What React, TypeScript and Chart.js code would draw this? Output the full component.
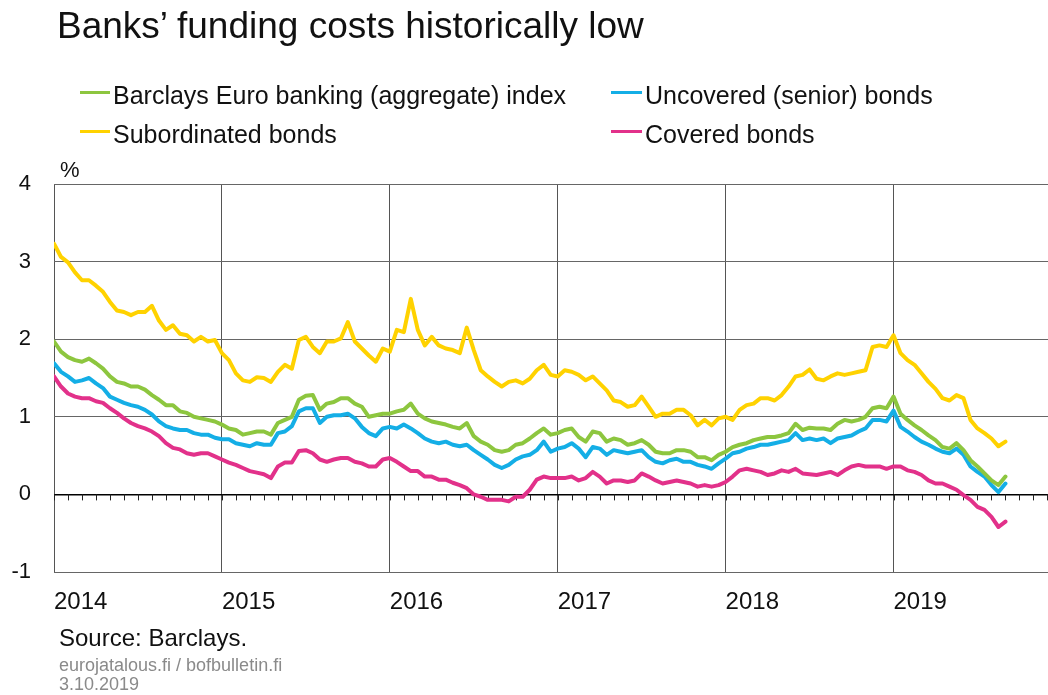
import React, { useEffect, useRef } from "react";
import { Chart, registerables } from "chart.js";

Chart.register(...registerables);

// Half-monthly observations starting January 2014
const startYear = 2014;
const stepsPerYear = 24;
const xMax = 2019.92;
const yearTicks = [2014, 2015, 2016, 2017, 2018, 2019];
const yMin = -1;
const yMax = 4;

const titleText = "Banks’ funding costs historically low";
const seriesNames = [
  "Barclays Euro banking (aggregate) index",
  "Uncovered (senior) bonds",
  "Subordinated bonds",
  "Covered bonds",
];

const aggregateIndex = [
  1.97, 1.84, 1.77, 1.73, 1.71, 1.75, 1.69, 1.62, 1.52, 1.45, 1.43, 1.39, 1.39, 1.35, 1.28, 1.22,
  1.15, 1.15, 1.07, 1.05, 1.0, 0.98, 0.96, 0.94, 0.9, 0.85, 0.83, 0.77, 0.79, 0.81, 0.81, 0.77,
  0.92, 0.96, 1.0, 1.22, 1.27, 1.28, 1.09, 1.17, 1.19, 1.24, 1.24, 1.17, 1.13, 1.0, 1.02, 1.04,
  1.04, 1.07, 1.09, 1.17, 1.04, 0.98, 0.94, 0.92, 0.9, 0.87, 0.85, 0.92, 0.75, 0.68, 0.64, 0.57,
  0.55, 0.57, 0.64, 0.66, 0.72, 0.79, 0.85, 0.77, 0.79, 0.83, 0.85, 0.74, 0.68, 0.81, 0.79, 0.68,
  0.72, 0.7, 0.64, 0.66, 0.7, 0.64, 0.55, 0.53, 0.53, 0.57, 0.57, 0.55, 0.48, 0.48, 0.44, 0.51,
  0.55, 0.61, 0.64, 0.66, 0.7, 0.72, 0.74, 0.74, 0.76, 0.79, 0.91, 0.83, 0.86, 0.85, 0.85, 0.83,
  0.91, 0.96, 0.94, 0.96, 1.0, 1.11, 1.13, 1.11, 1.26, 1.04, 0.96, 0.89, 0.83, 0.76, 0.7, 0.61,
  0.59, 0.66, 0.57, 0.44, 0.36, 0.27, 0.18, 0.12, 0.23,
];

const seniorBonds = [
  1.69, 1.58, 1.52, 1.45, 1.47, 1.5, 1.43, 1.37, 1.26, 1.22, 1.18, 1.15, 1.13, 1.09, 1.03, 0.94,
  0.88, 0.85, 0.83, 0.83, 0.79, 0.77, 0.77, 0.73, 0.71, 0.71, 0.66, 0.64, 0.62, 0.66, 0.64, 0.64,
  0.79, 0.81, 0.88, 1.07, 1.11, 1.11, 0.92, 1.0, 1.02, 1.02, 1.04, 0.98, 0.87, 0.79, 0.75, 0.85,
  0.87, 0.85, 0.9, 0.85, 0.79, 0.72, 0.68, 0.66, 0.68, 0.64, 0.62, 0.64, 0.57, 0.51, 0.45, 0.38,
  0.34, 0.38, 0.45, 0.49, 0.51, 0.57, 0.68, 0.55, 0.59, 0.61, 0.66, 0.59, 0.48, 0.61, 0.59, 0.51,
  0.57, 0.55, 0.53, 0.55, 0.57, 0.48, 0.42, 0.4, 0.44, 0.46, 0.42, 0.42, 0.38, 0.36, 0.33, 0.4,
  0.46, 0.53, 0.55, 0.59, 0.61, 0.64, 0.64, 0.66, 0.68, 0.7, 0.79, 0.7, 0.72, 0.7, 0.72, 0.66,
  0.72, 0.74, 0.76, 0.81, 0.85, 0.96, 0.96, 0.94, 1.08, 0.87, 0.81, 0.74, 0.68, 0.64, 0.59, 0.55,
  0.53, 0.59, 0.51, 0.36, 0.29, 0.23, 0.12, 0.03, 0.14,
];

const subordinatedBonds = [
  3.23, 3.06, 2.99, 2.86, 2.76, 2.76, 2.69, 2.61, 2.48, 2.37, 2.35, 2.31, 2.35, 2.35, 2.43, 2.24,
  2.12, 2.18, 2.07, 2.05, 1.97, 2.03, 1.97, 1.99, 1.82, 1.73, 1.56, 1.47, 1.45, 1.51, 1.5, 1.45,
  1.58, 1.67, 1.62, 1.99, 2.03, 1.9, 1.82, 1.97, 1.97, 2.01, 2.22, 1.97, 1.88, 1.79, 1.71, 1.88,
  1.84, 2.12, 2.09, 2.52, 2.12, 1.92, 2.03, 1.92, 1.88, 1.86, 1.82, 2.15, 1.86, 1.6, 1.52, 1.45,
  1.39, 1.45, 1.47, 1.43, 1.49, 1.6, 1.67, 1.54, 1.52, 1.6, 1.58, 1.54, 1.47, 1.52, 1.43, 1.34,
  1.21, 1.19, 1.13, 1.15, 1.26, 1.13, 1.0, 1.04, 1.04, 1.09, 1.09, 1.02, 0.89, 0.96, 0.89, 0.98,
  1.0, 0.96, 1.09, 1.15, 1.17, 1.24, 1.24, 1.21, 1.28, 1.39, 1.52, 1.54, 1.61, 1.49, 1.47, 1.52,
  1.56, 1.54, 1.56, 1.58, 1.6, 1.9, 1.92, 1.9, 2.05, 1.82, 1.73, 1.67, 1.56, 1.45, 1.36, 1.24,
  1.21, 1.28, 1.24, 0.96, 0.85, 0.79, 0.72, 0.62, 0.68,
];

const coveredBonds = [
  1.52, 1.39, 1.3, 1.26, 1.24, 1.24, 1.2, 1.18, 1.11, 1.05, 0.98, 0.92, 0.88, 0.85, 0.81, 0.75,
  0.66, 0.6, 0.58, 0.53, 0.51, 0.53, 0.53, 0.49, 0.45, 0.41, 0.38, 0.34, 0.3, 0.28, 0.26, 0.21,
  0.36, 0.41, 0.41, 0.56, 0.57, 0.53, 0.45, 0.42, 0.45, 0.47, 0.47, 0.42, 0.4, 0.36, 0.36, 0.45,
  0.47, 0.42, 0.36, 0.3, 0.3, 0.23, 0.23, 0.19, 0.19, 0.15, 0.12, 0.08, 0.0, -0.03, -0.07, -0.07,
  -0.07, -0.09, -0.03, -0.03, 0.06, 0.19, 0.23, 0.21, 0.21, 0.21, 0.23, 0.18, 0.21, 0.29, 0.23, 0.14,
  0.18, 0.18, 0.16, 0.18, 0.27, 0.23, 0.18, 0.14, 0.16, 0.18, 0.16, 0.14, 0.1, 0.12, 0.1, 0.12,
  0.16, 0.23, 0.31, 0.33, 0.31, 0.29, 0.25, 0.27, 0.31, 0.29, 0.33, 0.27, 0.26, 0.25, 0.27, 0.29,
  0.25, 0.31, 0.36, 0.38, 0.36, 0.36, 0.36, 0.33, 0.36, 0.36, 0.31, 0.29, 0.25, 0.18, 0.14, 0.14,
  0.1, 0.06, -0.01, -0.07, -0.16, -0.2, -0.29, -0.42, -0.35,
];

const GREEN = "#8dc63f";
const BLUE = "#14aee6";
const YELLOW = "#ffd200";
const PINK = "#e2318a";

const FONT = "'Liberation Sans', Arial, Helvetica, sans-serif";

const toPoints = (vals: number[]) =>
  vals.map((v, i) => ({ x: startYear + i / stepsPerYear, y: v }));

const monthTicksPlugin = {
  id: "monthTicks",
  beforeDatasetsDraw(chart: any) {
    const { ctx, chartArea, scales } = chart;
    const xs = scales.x;
    const ys = scales.y;
    const y0 = ys.getPixelForValue(0);
    ctx.save();
    ctx.strokeStyle = "#222";
    ctx.lineWidth = 1;
    for (let m = 0; m <= 12 * 6; m++) {
      const v = startYear + m / 12;
      if (v > xMax) break;
      const px = Math.round(xs.getPixelForValue(v)) + 0.5;
      if (px < chartArea.left || px > chartArea.right) continue;
      ctx.beginPath();
      ctx.moveTo(px, y0);
      ctx.lineTo(px, y0 + 6);
      ctx.stroke();
    }
    ctx.restore();
  },
};

function Text(props: {
  x: number;
  baseline: number;
  size: number;
  color?: string;
  children: React.ReactNode;
}) {
  const { x, baseline, size, color, children } = props;
  return (
    <div
      style={{
        position: "absolute",
        left: x,
        top: baseline - 0.8465 * size,
        fontSize: size,
        lineHeight: `${size}px`,
        fontFamily: FONT,
        color: color || "#111",
        whiteSpace: "nowrap",
      }}
    >
      {children}
    </div>
  );
}

function LegendItem(props: { x: number; lineY: number; baseline: number; color: string; label: string; textX: number }) {
  const { x, lineY, baseline, color, label, textX } = props;
  return (
    <>
      <div
        style={{
          position: "absolute",
          left: x,
          top: lineY - 1.5,
          width: textX - x - 3,
          height: 3,
          background: color,
        }}
      />
      <Text x={textX} baseline={baseline} size={25}>
        {label}
      </Text>
    </>
  );
}

export default function App() {
  const canvasRef = useRef<HTMLCanvasElement | null>(null);

  useEffect(() => {
    if (!canvasRef.current) return;
    const mk = (label: string, vals: number[], color: string) => ({
      label,
      data: toPoints(vals),
      borderColor: color,
      backgroundColor: color,
      borderWidth: 4,
      pointRadius: 0,
      tension: 0,
      borderJoinStyle: "round" as const,
      borderCapStyle: "round" as const,
    });
    const chart = new Chart(canvasRef.current, {
      type: "line",
      data: {
        datasets: [
          mk(seriesNames[2], subordinatedBonds, YELLOW),
          mk(seriesNames[0], aggregateIndex, GREEN),
          mk(seriesNames[1], seniorBonds, BLUE),
          mk(seriesNames[3], coveredBonds, PINK),
        ],
      },
      options: {
        responsive: false,
        animation: false,
        devicePixelRatio: 1,
        layout: { padding: { top: 184, left: 0, right: 0, bottom: 0 } },
        plugins: {
          legend: { display: false },
          tooltip: { enabled: false },
          title: { display: false },
        },
        scales: {
          x: {
            type: "linear",
            min: startYear,
            max: xMax,
            afterBuildTicks: (scale: any) => {
              scale.ticks = yearTicks.map((v) => ({ value: v }));
            },
            afterFit: (scale: any) => {
              scale.height = 695 - 572;
            },
            border: { display: false },
            grid: {
              color: "#555",
              lineWidth: 1,
              drawTicks: false,
            },
            ticks: {
              align: "start",
              padding: 16,
              color: "#111",
              font: { family: FONT, size: 24 },
              maxRotation: 0,
              autoSkip: false,
              callback: (v: any) => String(v),
            },
          },
          y: {
            type: "linear",
            min: yMin,
            max: yMax,
            afterFit: (scale: any) => {
              scale.width = 54;
            },
            border: { display: false },
            grid: {
              color: (c: any) => (c.tick && c.tick.value === 0 ? "#000" : "#666"),
              lineWidth: (c: any) => (c.tick && c.tick.value === 0 ? 1.5 : 1),
              drawTicks: false,
            },
            ticks: {
              stepSize: 1,
              padding: 23,
              color: "#111",
              font: { family: FONT, size: 22 },
            },
          },
        },
      },
      plugins: [monthTicksPlugin],
    });
    return () => chart.destroy();
  }, []);

  return (
    <div
      style={{
        position: "absolute",
        left: 0,
        top: 0,
        width: 1048,
        height: 695,
        background: "#fff",
        overflow: "hidden",
      }}
    >
      <canvas
        ref={canvasRef}
        width={1048}
        height={695}
        style={{ position: "absolute", left: 0, top: 0, width: 1048, height: 695 }}
      />
      <Text x={57} baseline={38.5} size={37}>
        {titleText}
      </Text>
      <LegendItem x={80} lineY={92.5} baseline={104} color={GREEN} label={seriesNames[0]} textX={113} />
      <LegendItem x={611} lineY={92.5} baseline={104} color={BLUE} label={seriesNames[1]} textX={645} />
      <LegendItem x={80} lineY={131} baseline={143.5} color={YELLOW} label={seriesNames[2]} textX={113} />
      <LegendItem x={611} lineY={131} baseline={143.5} color={PINK} label={seriesNames[3]} textX={645} />
      <Text x={60} baseline={178} size={22}>
        %
      </Text>
      <Text x={59} baseline={646.5} size={24}>
        Source: Barclays.
      </Text>
      <Text x={59} baseline={671} size={18} color="#8a8a8a">
        eurojatalous.fi / bofbulletin.fi
      </Text>
      <Text x={59} baseline={690} size={18} color="#8a8a8a">
        3.10.2019
      </Text>
    </div>
  );
}
